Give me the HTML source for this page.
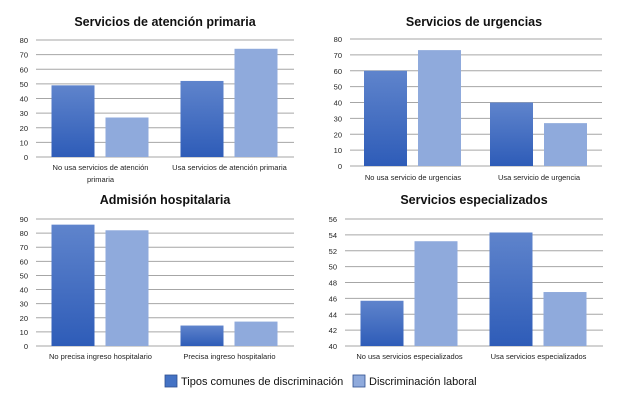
<!DOCTYPE html>
<html><head><meta charset="utf-8"><style>
body{margin:0;width:620px;height:411px;background:#fff;overflow:hidden;font-family:"Liberation Sans",sans-serif}
svg text{font-family:"Liberation Sans",sans-serif}
</style></head><body>
<svg id="s" width="620" height="411">
<defs><linearGradient id="g" x1="0" y1="0" x2="0" y2="1"><stop offset="0" stop-color="#5f84cc"/><stop offset="1" stop-color="#2e5cb8"/></linearGradient></defs>
</svg>
<script>
const titles=["Servicios de atención primaria","Servicios de urgencias","Admisión hospitalaria","Servicios especializados"];
const categories1=[["No usa servicios de atención","primaria"],["Usa servicios de atención primaria"]];
const categories2=[["No usa servicio de urgencias"],["Usa servicio de urgencia"]];
const categories3=[["No precisa ingreso hospitalario"],["Precisa ingreso hospitalario"]];
const categories4=[["No usa servicios especializados"],["Usa servicios especializados"]];
const seriesComunes1=[49,52], seriesLaboral1=[27,74];
const seriesComunes2=[60,40], seriesLaboral2=[73,27];
const seriesComunes3=[86,14.5], seriesLaboral3=[82,17.3];
const seriesComunes4=[45.7,54.3], seriesLaboral4=[53.2,46.8];
const ticks1=[0,10,20,30,40,50,60,70,80];
const ticks2=[0,10,20,30,40,50,60,70,80];
const ticks3=[0,10,20,30,40,50,60,70,80,90];
const ticks4=[40,42,44,46,48,50,52,54,56];
const legendLabels=["Tipos comunes de discriminación","Discriminación laboral"];
const NS="http://www.w3.org/2000/svg", svg=document.getElementById('s');
function mk(t,a,p){const e=document.createElementNS(NS,t);for(const k in a)e.setAttribute(k,a[k]);(p||svg).appendChild(e);return e;}
const panels=[
 {x0:36,x1:294,top:40,bot:157,ty:22,ly:167,tx:165,cats:categories1,a:seriesComunes1,b:seriesLaboral1,ticks:ticks1},
 {x0:350,x1:602,top:39,bot:166,ty:22,ly:177,tx:474,cats:categories2,a:seriesComunes2,b:seriesLaboral2,ticks:ticks2},
 {x0:36,x1:294,top:219,bot:346,ty:200,ly:356,tx:165,cats:categories3,a:seriesComunes3,b:seriesLaboral3,ticks:ticks3},
 {x0:345,x1:603,top:219,bot:346,ty:200,ly:356,tx:474,cats:categories4,a:seriesComunes4,b:seriesLaboral4,ticks:ticks4}];
panels.forEach((p,i)=>{
 const g=mk('g',{});
 
 
 const mn=p.ticks[0],mx=p.ticks[p.ticks.length-1];
 const y=v=>p.bot-(v-mn)/(mx-mn)*(p.bot-p.top);
 const t=mk('text',{x:p.tx,y:p.ty+4,'text-anchor':'middle','font-size':12.5,'font-weight':'bold',fill:'#111'},g);
 t.textContent=titles[i];
 
 
 p.ticks.forEach(v=>{
  const l=mk('line',{x1:p.x0,x2:p.x1,y1:y(v),y2:y(v),stroke:'#a6a6a6','stroke-width':1},g);
  
  
  const tl=mk('text',{x:p.x0-8,y:y(v)+3,'text-anchor':'end','font-size':7.5,fill:'#222'},g);
  tl.textContent=v;
  
  
 });
 const gw=(p.x1-p.x0)/2;
 p.cats.forEach((c,j)=>{
  const cx=p.x0+gw*(j+0.5);
  [[p.a[j],'url(#g)',-1],[p.b[j],'#8faadc',1]].forEach(([v,f,s])=>{
   const bx=s<0?cx-54+(0):cx+6;
   const r=mk('rect',{x:s<0?cx-49:cx+5,y:y(v),width:43,height:p.bot-y(v),fill:f},g);
   
   
  });
  c.forEach((ln,k)=>{
   const tx=mk('text',{x:cx,y:p.ly+3+k*12,'text-anchor':'middle','font-size':7.5,fill:'#222'},g);
   tx.textContent=ln;
   
   
  });
 });
});
const lg=mk('g',{});


[[165,'#4472c4',legendLabels[0]],[353,'#8faadc',legendLabels[1]]].forEach(([x,c,l])=>{
 const r=mk('rect',{x:x,y:375,width:12,height:12,fill:c,stroke:'#2f4f8f','stroke-width':0.8},lg);
 
 
 const t=mk('text',{x:x+16,y:385,'font-size':11,fill:'#111'},lg);
 t.textContent=l;
 
 
});
</script>
</body></html>
